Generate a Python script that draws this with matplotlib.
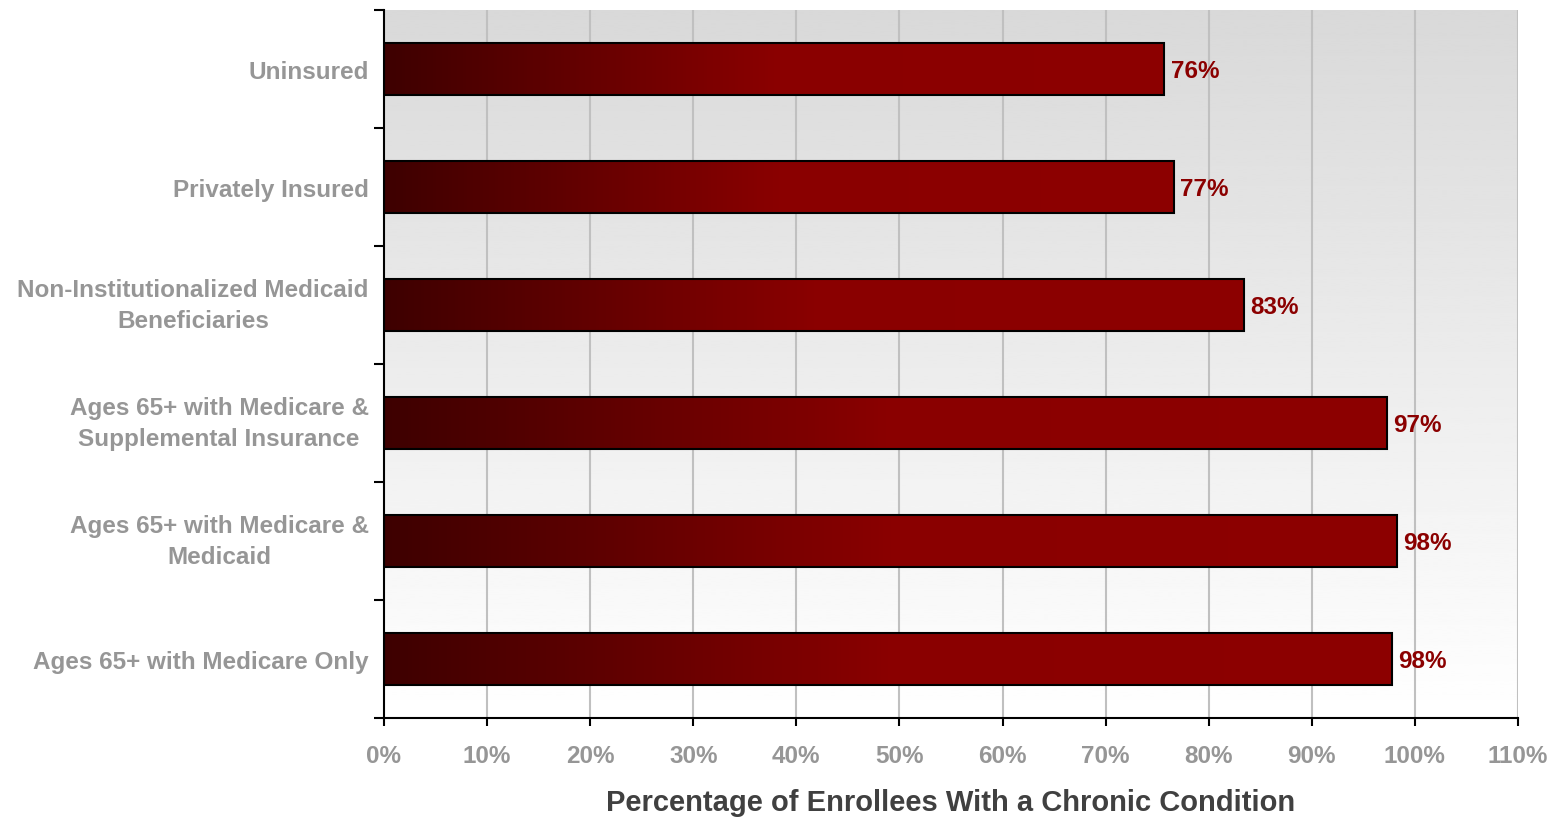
import numpy as np
import matplotlib.pyplot as plt
from matplotlib.colors import LinearSegmentedColormap

# 数据
categories = ['Uninsured', 'Privately Insured',
              'Non-Institutionalized Medicaid\nBeneficiaries',
              'Ages 65+ with Medicare &\nSupplemental Insurance',
              'Ages 65+ with Medicare &\nMedicaid',
              'Ages 65+ with Medicare Only']
values = [75.7, 76.6, 83.4, 97.3, 98.3, 97.8]
labels = ['76%', '77%', '83%', '97%', '98%', '98%']
xticks = list(range(0, 111, 10))

plt.rcParams['font.family'] = ['Liberation Sans', 'DejaVu Sans']
plt.rcParams['font.weight'] = 'bold'

fig = plt.figure(figsize=(15.54, 8.2), dpi=100)
ax = fig.add_axes([0.2471, 0.1232, 0.7297, 0.8634])

n = len(categories)
y = np.arange(n)[::-1]

# 背景渐变（上灰下白）
bg = np.linspace(0.85, 1.0, 256).reshape(-1, 1)
ax.imshow(bg, cmap='gray', vmin=0, vmax=1, aspect='auto',
          extent=[0, 110, -0.5, n - 0.5], origin='upper', zorder=0)

# 竖向网格线
for t in xticks[1:]:
    ax.axvline(t, color='#c0c0c0', lw=1.5, zorder=1)

# 条形（横向渐变）
cmap = LinearSegmentedColormap.from_list('red', ['#3e0000', '#8a0000', '#8d0000'])
grad = np.linspace(0, 1, 256).reshape(1, -1)
h = 0.44
ax.barh(y, values, height=h, facecolor='none', edgecolor='black', lw=1.5, zorder=3)
for i in range(n):
    ax.imshow(grad, cmap=cmap, aspect='auto',
              extent=[0, values[i], y[i] - h / 2, y[i] + h / 2], zorder=2)
    ax.text(values[i] + 0.6, y[i] - 0.015, labels[i], va='center', ha='left',
            color='#8b0000', fontsize=17.5, fontweight='bold')

ax.set_xlim(0, 110)
ax.set_ylim(-0.5, n - 0.5)

# 坐标轴
ax.set_yticks(y)
ax.set_yticklabels(categories, color='#969696', fontsize=17.5, fontweight='bold',
                   linespacing=1.45)
ax.tick_params(axis='y', length=0, pad=11)
ax.set_yticks(np.arange(-0.5, n, 1), minor=True)
ax.tick_params(axis='y', which='minor', length=7, width=1.5, direction='out')
ax.set_xticks(xticks)
ax.set_xticklabels([f'{t}%' for t in xticks], color='#969696', fontsize=17.5,
                   fontweight='bold')
ax.tick_params(axis='x', length=6, width=1.5, direction='out', pad=13)
for lab in ax.get_yticklabels():
    lab.set_multialignment('center')
    if '\n' in lab.get_text():
        lab.set_va('center')

for s in ['top', 'right']:
    ax.spines[s].set_visible(False)
for s in ['left', 'bottom']:
    ax.spines[s].set_linewidth(1.5)
    ax.spines[s].set_zorder(4)

ax.set_xlabel('Percentage of Enrollees With a Chronic Condition', fontsize=21,
              fontweight='bold', color='#404040', labelpad=15)

fig.savefig('out.png', dpi=100)
